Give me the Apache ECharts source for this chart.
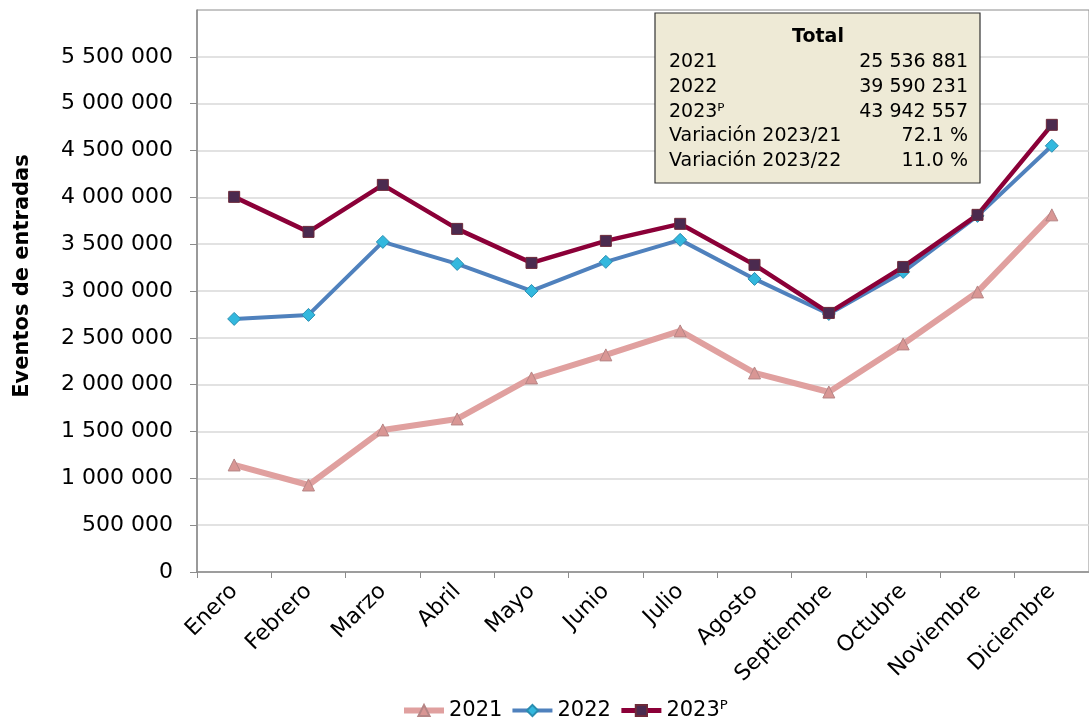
<!DOCTYPE html>
<html>
<head>
<meta charset="utf-8">
<title>Eventos de entradas</title>
<script src="https://cdn.jsdelivr.net/npm/echarts@6/dist/echarts.min.js"></script>
<style>
  html, body { margin: 0; padding: 0; background: #fff; }
  #chart { width: 1089px; height: 719px; }
</style>
</head>
<body>
<div id="chart"></div>
<script>
const months = ['Enero', 'Febrero', 'Marzo', 'Abril', 'Mayo', 'Junio', 'Julio', 'Agosto', 'Septiembre', 'Octubre', 'Noviembre', 'Diciembre']
const serie2021 = [1143000, 929000, 1517000, 1634000, 2072000, 2318000, 2574000, 2125000, 1922000, 2435000, 2990000, 3813000]
const serie2022 = [2702000, 2745000, 3524000, 3289000, 3001000, 3311000, 3546000, 3129000, 2755000, 3204000, 3802000, 4550000]
const serie2023 = [4005000, 3631000, 4133000, 3663000, 3300000, 3535000, 3717000, 3279000, 2766000, 3257000, 3813000, 4774000]
const yTicks = [0, 500000, 1000000, 1500000, 2000000, 2500000, 3000000, 3500000, 4000000, 4500000, 5000000, 5500000]
const totalLabels = ['2021', '2022', '2023ᴾ', 'Variación 2023/21', 'Variación 2023/22']
const totalValues = ['25 536 881', '39 590 231', '43 942 557', '72.1 %', '11.0 %']

const font = 'DejaVu Sans'
const fmt = (v) => String(v).replace(/\B(?=(\d{3})+(?!\d))/g, ' ')

const chart = echarts.init(document.getElementById('chart'))

// cuadro de totales
const boxItems = [
  {
    type: 'rect', z: 100,
    shape: { x: 655, y: 13, width: 325, height: 170 },
    style: { fill: '#eeead6', stroke: '#333', lineWidth: 1.2 }
  },
  {
    type: 'text', z: 101, x: 818, y: 28,
    style: { text: 'Total', font: 'bold 19px ' + font, fill: '#000', align: 'center' }
  }
]
totalLabels.forEach((lab, i) => {
  boxItems.push({
    type: 'text', z: 101, x: 669, y: 53 + i * 24.6,
    style: { text: lab, font: '19px ' + font, fill: '#000' }
  })
  boxItems.push({
    type: 'text', z: 101, x: 968, y: 53 + i * 24.6,
    style: { text: totalValues[i], font: '19px ' + font, fill: '#000', align: 'right' }
  })
})

const option = {
  animation: false,
  textStyle: { fontFamily: font },
  grid: {
    left: 197, right: -6, top: 10, bottom: 147,
    show: true, borderColor: '#8c8c8c', borderWidth: 1
  },
  legend: {
    bottom: -7,
    left: 396,
    itemWidth: 40,
    itemHeight: 14,
    itemGap: 8,
    textStyle: { fontSize: 21, color: '#000' },
    data: [
      { name: '2021', lineStyle: { width: 6 } },
      { name: '2022', lineStyle: { width: 4 } },
      { name: '2023ᴾ', lineStyle: { width: 5 } }
    ]
  },
  xAxis: {
    type: 'category',
    data: months,
    axisLine: { lineStyle: { color: '#8c8c8c', width: 1.5 } },
    axisTick: { show: true, length: 6, lineStyle: { color: '#8c8c8c' } },
    axisLabel: { rotate: 45, fontSize: 22, color: '#000', margin: 16 }
  },
  yAxis: {
    type: 'value',
    min: 0,
    max: 6000000,
    interval: 500000,
    name: 'Eventos de entradas',
    nameLocation: 'middle',
    nameGap: 164,
    nameTextStyle: { fontSize: 21, fontWeight: 'bold', color: '#000', padding: [0, 0, 0, 30] },
    axisLine: { show: true, lineStyle: { color: '#8c8c8c', width: 1.5 } },
    axisTick: { show: true, length: 7, customValues: yTicks, lineStyle: { color: '#8c8c8c' } },
    splitLine: { lineStyle: { color: '#d9d9d9', width: 1.5 } },
    axisLabel: {
      fontSize: 22, color: '#000', margin: 24,
      customValues: yTicks,
      formatter: (v) => fmt(v)
    }
  },
  series: [
    {
      name: '2021',
      type: 'line',
      data: serie2021,
      symbol: 'triangle',
      symbolSize: 12,
      lineStyle: { color: '#e0a09f', width: 6 },
      itemStyle: { color: '#d99694', borderColor: '#b58585', borderWidth: 1 },
      z: 2
    },
    {
      name: '2022',
      type: 'line',
      data: serie2022,
      symbol: 'diamond',
      symbolSize: 13,
      lineStyle: { color: '#4f81bd', width: 4 },
      itemStyle: { color: '#33b8de', borderColor: '#2a8db0', borderWidth: 1 },
      z: 3
    },
    {
      name: '2023ᴾ',
      type: 'line',
      data: serie2023,
      symbol: 'rect',
      symbolSize: 11,
      lineStyle: { color: '#8b0038', width: 4.5 },
      itemStyle: { color: '#4b2a4f', borderColor: '#6d2a3a', borderWidth: 1 },
      z: 4
    }
  ],
  graphic: boxItems
}

chart.setOption(option)
</script>
</body>
</html>
